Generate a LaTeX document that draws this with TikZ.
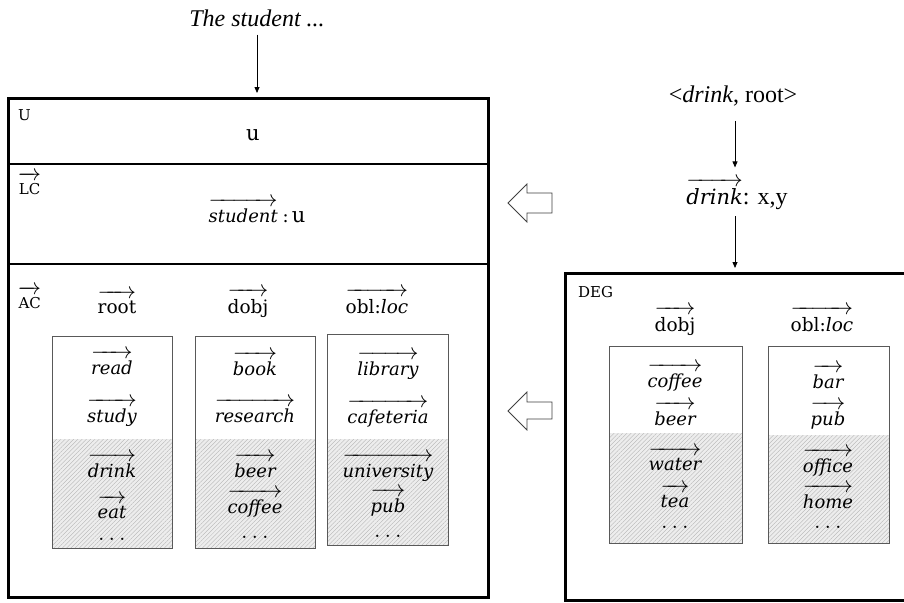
\RequirePackage{fix-cm}
\documentclass[tikz,border=0pt]{standalone}
\usepackage{fontspec}
\setmainfont{Liberation Serif}
\newfontfamily\cam{DejaVu Serif}
\usetikzlibrary{patterns.meta,arrows.meta}
\newcommand\vecw[1]{\vbox{\offinterlineskip\halign{\hfil##\hfil\cr{\fontsize{23}{23}\selectfont\rightarrowfill}\cr\noalign{\kern2pt}#1\cr}}}
\newcommand\vw[1]{\vecw{\cam\itshape #1}}
\newcommand\vu[1]{\vecw{\cam #1}}
\newcommand\dotsw{{\fontsize{24}{24}\selectfont$\ldots$}}
\begin{document}
\begin{tikzpicture}[x=1pt,y=-1pt,
  bigbox/.style={draw, line width=3pt, inner sep=0pt, outer sep=0pt},
  subbox/.style={draw=black!65, line width=0.9pt, inner sep=0pt, outer sep=0pt},
  hatchbg/.style={fill=gray!14},
  hatchln/.style={pattern={Lines[angle=45,distance=3pt,line width=0.35pt]}, pattern color=gray!60},
  word/.style={font=\cam\fontsize{18}{20}\selectfont, anchor=base, inner sep=0pt},
  lab/.style={font=\cam\fontsize{18.5}{21}\selectfont, anchor=base, inner sep=0pt},
  tag/.style={font=\cam\fontsize{15}{17}\selectfont, anchor=base west, inner sep=0pt},
  top/.style={font=\fontsize{24}{28}\selectfont, anchor=base, inner sep=0pt},
  conn/.style={-{Triangle[length=6pt,width=5pt]}, line width=0.8pt},
  hollow/.style={draw=black!75, line width=0.8pt, fill=white, line join=miter}
]
\useasboundingbox (0,0) rectangle (904,602);
\clip (0,0) rectangle (904,602);
\fill[white] (0,0) rectangle (904,602);

% ---------- main box ----------
\node[bigbox, minimum width=480pt, minimum height=499pt, anchor=north west] (main) at (8,98) {};
\draw[line width=1.2pt] (main.west |- 0,164) -- (main.east |- 0,164);
\draw[line width=1.2pt] (main.west |- 0,264) -- (main.east |- 0,264);

\node[tag] (U) at (18,120) {U};
\node[font=\cam\fontsize{21}{24}\selectfont, anchor=base, inner sep=0pt] (u) at (253,140) {u};
\node[tag] (LC) at (18,194) {\vu{LC}};
\node[word] (stu) at (257,222) {\vw{student}\;:\,{\fontsize{21}{24}\selectfont u}};
\node[tag] (AC) at (18,308) {\vu{AC}};

\node[lab] (root) at (117,313) {\vu{root}};
\node[lab] (dobj1) at (248,313) {\vu{dobj}};
\node[lab] (obl1) at (377,313) {\vecw{\cam obl:{\itshape loc}}};

% sub boxes in main
\fill[hatchbg] (52,439) rectangle (172,548);
\fill[hatchln] (52,439) rectangle (172,548);
\fill[hatchbg] (195,439) rectangle (315,548);
\fill[hatchln] (195,439) rectangle (315,548);
\fill[hatchbg] (327,439) rectangle (448,545);
\fill[hatchln] (327,439) rectangle (448,545);
\node[subbox, minimum width=120pt, minimum height=212pt, anchor=north west] (b1) at (52,336) {};
\node[subbox, minimum width=120pt, minimum height=212pt, anchor=north west] (b2) at (195,336) {};
\node[subbox, minimum width=121pt, minimum height=211pt, anchor=north west] (b3) at (327,334) {};

\node[word] (w11) at (112,374) {\vw{read}};
\node[word] (w12) at (112,422) {\vw{study}};
\node[word] (w13) at (112,477) {\vw{drink}};
\node[word] (w14) at (112,518) {\vw{eat}};
\node[word] (w15) at (112,540) {\dotsw};

\node[word] (w21) at (255,375) {\vw{book}};
\node[word] (w22) at (255,422) {\vw{research}};
\node[word] (w23) at (255,477) {\vw{beer}};
\node[word] (w24) at (255,513) {\vw{coffee}};
\node[word] (w25) at (255,538) {\dotsw};

\node[word] (w31) at (388,375) {\vw{library}};
\node[word] (w32) at (388,423) {\vw{cafeteria}};
\node[word] (w33) at (388,477) {\vw{university}};
\node[word] (w34) at (388,512) {\vw{pub}};
\node[word] (w35) at (388,537) {\dotsw};

% ---------- title ----------
\node[top, font=\fontsize{24}{28}\selectfont\itshape] (title) at (257,27) {The student ...};
\draw[conn, shorten <=7pt, shorten >=5pt] (title.south) -- (title.south |- main.north);

% ---------- right side ----------
\node[top] (dr) at (733,102) {<\textit{drink}, root>};
\node[word, font=\cam\fontsize{21}{24}\selectfont] (dx) at (737,204) {\vw{drink}{\rmfamily\fontsize{24}{28}\selectfont: x,y}};
\node[bigbox, minimum width=345pt, minimum height=327pt, anchor=north west] (deg) at (565,273) {};
\draw[conn, shorten <=15pt, shorten >=10pt] (dr.south -| 735,0) -- (dx.north -| 735,0);
\draw[conn, shorten <=7pt, shorten >=5pt] (dx.south -| 735,0) -- (deg.north -| 735,0);

\node[tag] (DEG) at (578,297) {DEG};
\node[lab] (dobj2) at (675,331) {\vu{dobj}};
\node[lab] (obl2) at (822,331) {\vecw{\cam obl:{\itshape loc}}};

\fill[hatchbg] (609,433) rectangle (742,543);
\fill[hatchln] (609,433) rectangle (742,543);
\fill[hatchbg] (768,435) rectangle (889,543);
\fill[hatchln] (768,435) rectangle (889,543);
\node[subbox, minimum width=133pt, minimum height=197pt, anchor=north west] (b4) at (609,346) {};
\node[subbox, minimum width=121pt, minimum height=197pt, anchor=north west] (b5) at (768,346) {};

\node[word] (w41) at (675,387) {\vw{coffee}};
\node[word] (w42) at (675,425) {\vw{beer}};
\node[word] (w43) at (675,470) {\vw{water}};
\node[word] (w44) at (675,507) {\vw{tea}};
\node[word] (w45) at (675,528) {\dotsw};

\node[word] (w51) at (828,388) {\vw{bar}};
\node[word] (w52) at (828,425) {\vw{pub}};
\node[word] (w53) at (828,472) {\vw{office}};
\node[word] (w54) at (828,508) {\vw{home}};
\node[word] (w55) at (828,528) {\dotsw};

% ---------- hollow arrows ----------
\draw[hollow] (508,203) -- (527,184) -- (527,193) -- (552,193) -- (552,213) -- (527,213) -- (527,222) -- cycle;
\draw[hollow] (508,411) -- (527,392) -- (527,402) -- (552,402) -- (552,419) -- (527,419) -- (527,430) -- cycle;
\end{tikzpicture}
\end{document}
